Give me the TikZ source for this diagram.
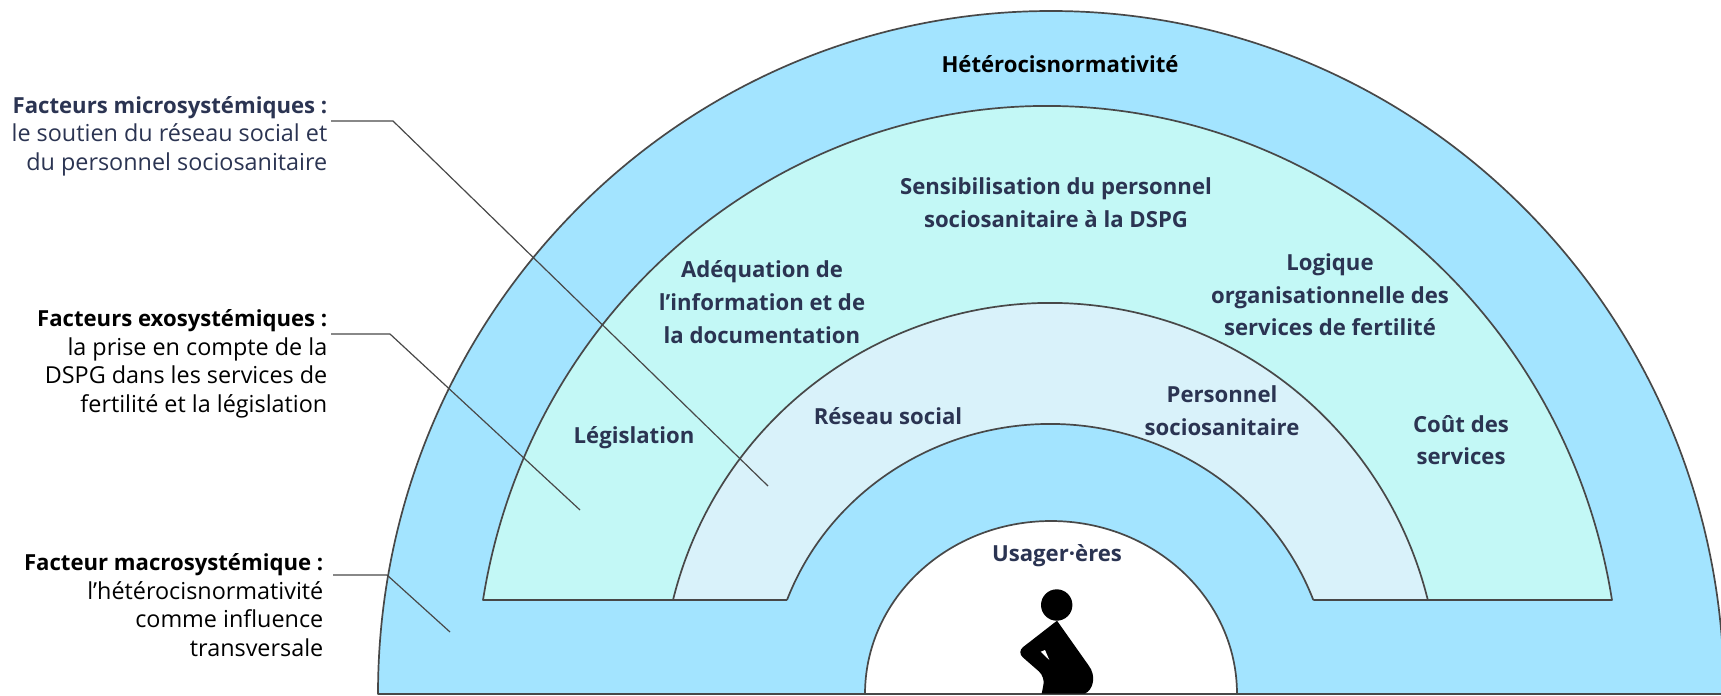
\documentclass[tikz,border=0pt]{standalone}
\usepackage{fontspec}
\setmainfont{Open Sans}
\definecolor{ringblue}{HTML}{A3E4FF}
\definecolor{ringteal}{HTML}{C3F8F6}
\definecolor{ringpale}{HTML}{D9F2FA}
\definecolor{inknavy}{HTML}{2B3452}
\definecolor{inkline}{HTML}{484848}
\newcommand{\sidehead}[1]{{\fontsize{6.3}{8.1}\selectfont\bfseries #1}}
\tikzset{
  ringline/.style={draw=inkline, line width=0.17mm},
  lead/.style={draw=inkline, line width=0.12mm},
  ringtxt/.style={font=\fontsize{6.3}{9.3}\selectfont\bfseries, text=inknavy, align=center, inner sep=0pt},
  sidetxt/.style={font=\fontsize{6.65}{8.1}\selectfont, align=right, anchor=east, inner sep=0pt}
}
\begin{document}
\begin{tikzpicture}[line join=round]
\def\cx{10.51} \def\base{0.95}
\useasboundingbox (0,0) rectangle (17.21,6.95);
\clip (0,0) rectangle (17.21,6.95);
% rings
\draw[ringline,fill=ringblue] (\cx-6.73,0.01) arc[x radius=6.73,y radius=6.83,start angle=180,end angle=0] -- cycle;
\draw[ringline,fill=ringteal] (4.83,\base) arc[x radius=5.72,y radius=5.89,start angle={180-asin(\base/5.89)},end angle={asin(\base/5.89)}] -- cycle;
\draw[ringline,fill=ringpale] (6.73,\base) arc[x radius=3.89,y radius=3.92,start angle={180-asin(\base/3.92)},end angle={asin(\base/3.92)}] -- cycle;
\fill[ringblue] (7.87,0.85) -- (7.87,\base) arc[x radius=2.81,y radius=2.71,start angle={180-asin(\base/2.71)},end angle={asin(\base/2.71)}] -- (13.14,0.85) -- cycle;
\draw[ringline] (7.87,\base) arc[x radius=2.81,y radius=2.71,start angle={180-asin(\base/2.71)},end angle={asin(\base/2.71)}];
\draw[ringline,fill=white] (\cx-1.86,0.01) arc[x radius=1.86,y radius=1.73,start angle=180,end angle=0];
\draw[ringline] (3.78,0.01) -- (17.21,0.01);
% figure
\fill (10.567,0.90) circle (0.157);
\fill[rounded corners=0.08cm] (10.57,0.743) -- (10.167,0.43) -- (10.45,0.183) [sharp corners] -- (10.417,0.015) -- (10.85,0.015) .. controls (10.93,0.05) and (10.97,0.19) .. (10.883,0.30) -- cycle;
\fill[white] (10.407,0.433) -- (10.45,0.45) -- (10.493,0.35) -- cycle;
% ring texts
\node[ringtxt,text=black] (hetero) at (10.60,6.31) {Hétérocisnormativité};
\node[ringtxt] (sensib) at (10.56,4.92) {Sensibilisation du personnel\\sociosanitaire à la DSPG};
\node[ringtxt] (adequa) at (7.62,3.93) {Adéquation de\\l’information et de\\la documentation};
\node[ringtxt] (logiq) at (13.30,4.00) {Logique\\organisationnelle des\\services de fertilité};
\node[ringtxt] (legis) at (6.34,2.57) {Législation};
\node[ringtxt] (reseau) at (8.88,2.79) {Réseau social};
\node[ringtxt] (perso) at (12.22,2.84) {Personnel\\sociosanitaire};
\node[ringtxt] (cout) at (14.61,2.55) {Coût des\\services};
\node[ringtxt] (usager) at (10.57,1.39) {Usager·ères};
% side labels
\node[sidetxt,text=inknavy] (micro) at (3.28,5.59) {\sidehead{Facteurs microsystémiques :}\\le soutien du réseau social et\\du personnel sociosanitaire};
\node[sidetxt] (exo) at (3.28,3.31) {\sidehead{Facteurs exosystémiques :}\\la prise en compte de la\\DSPG dans les services de\\fertilité et la législation};
\node[sidetxt] (macro) at (3.24,0.90) {\sidehead{Facteur macrosystémique :}\\l’hétérocisnormativité\\comme influence\\transversale};
% leaders
\coordinate (microa) at (3.93,5.74); \coordinate (microb) at (7.68,2.09);
\coordinate (exoa) at (3.90,3.61); \coordinate (exob) at (5.80,1.85);
\coordinate (macroa) at (3.87,1.20); \coordinate (macrob) at (4.50,0.63);
\draw[lead] ([xshift=0.03cm]micro.east |- microa) -- (microa) -- (microb);
\draw[lead] ([xshift=0.03cm]exo.east |- exoa) -- (exoa) -- (exob);
\draw[lead] ([xshift=0.09cm]macro.east |- macroa) -- (macroa) -- (macrob);
\end{tikzpicture}
\end{document}
